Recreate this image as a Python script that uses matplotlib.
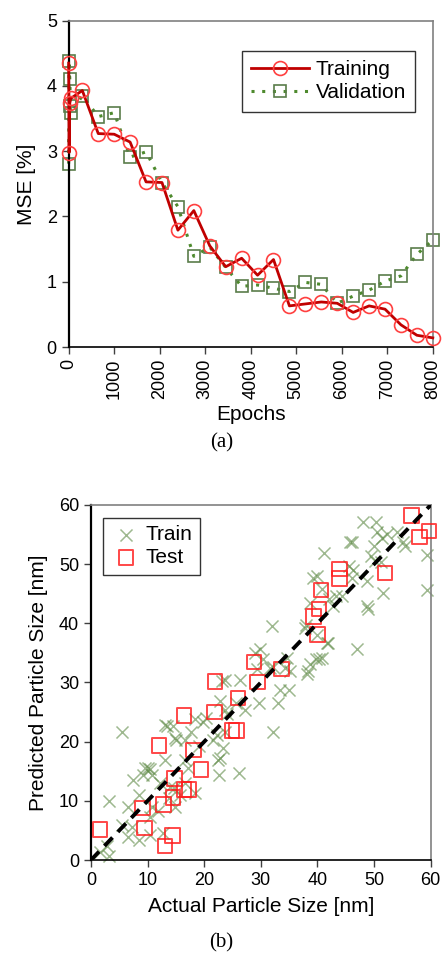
import numpy as np
import matplotlib.pyplot as plt

plt.rcParams['font.family'] = ['Liberation Sans', 'DejaVu Sans']

# (a) MSE vs epochs
train_epochs = [0, 10, 25, 50, 300, 650, 1000, 1350, 1700, 2050, 2400, 2750, 3100, 3450,
                3800, 4150, 4500, 4850, 5200, 5550, 5900, 6250, 6600, 6950, 7300, 7650, 8000]
train_mse = [4.35, 2.98, 3.74, 3.81, 3.93, 3.27, 3.26, 3.14, 2.53, 2.52, 1.79, 2.09, 1.55, 1.23,
             1.36, 1.10, 1.34, 0.63, 0.66, 0.69, 0.67, 0.53, 0.63, 0.58, 0.34, 0.18, 0.14]
val_epochs = [0, 10, 25, 40, 50, 300, 650, 1000, 1350, 1700, 2050, 2400, 2750, 3100, 3450,
              3800, 4150, 4500, 4850, 5200, 5550, 5900, 6250, 6600, 6950, 7300, 7650, 8000]
val_mse = [2.81, 4.38, 4.10, 3.69, 3.58, 3.85, 3.53, 3.59, 2.91, 2.99, 2.52, 2.15, 1.39, 1.53, 1.22,
           0.93, 0.95, 0.90, 0.85, 0.99, 0.96, 0.67, 0.78, 0.87, 1.01, 1.09, 1.42, 1.64]

# (b) predicted vs actual particle size
train_actual = [48.1, 50.4, 45.8, 50.5, 51.4, 52.2, 54.0, 55.1, 55.5, 50.0, 49.4, 50.2, 51.2,
                41.2, 59.3, 59.3, 39.3, 39.9, 45.5, 46.3, 46.1, 48.7, 51.6, 44.3, 42.1, 48.7,
                49.0, 38.7, 38.0, 41.8, 40.0, 46.9, 31.9, 37.8, 39.8, 38.7, 40.8, 34.6, 34.3,
                31.6, 35.2, 29.9, 29.3, 46.1, 29.0, 30.4, 26.3, 23.7, 38.1, 40.2, 41.6, 40.8,
                43.3, 42.8, 23.1, 25.7, 22.8, 23.6, 18.4, 19.8, 13.4, 14.4, 5.4, 14.8, 16.6,
                17.7, 22.2, 21.6, 23.7, 23.4, 19.0, 13.1, 9.5, 10.4, 9.2, 10.7, 7.5, 22.5,
                22.6, 26.2, 16.6, 14.7, 12.2, 8.4, 3.1, 6.6, 10.7, 11.9, 14.8, 10.4, 5.4, 7.2,
                6.6, 8.4, 10.4, 2.8, 3.1, 1.6, 12.8, 16.6, 17.2, 13.7, 15.7, 14.0, 18.4, 38.3,
                34.9, 33.1, 32.1, 22.7, 29.6, 32.2, 33.4, 27.2, 24.0, 20.4, 15.1, 13.1, 10.1]
train_pred = [57.1, 57.2, 53.7, 55.4, 54.4, 55.1, 55.4, 53.8, 53.1, 53.1, 51.4, 50.6, 50.3,
              51.9, 51.5, 45.6, 47.7, 48.0, 49.7, 49.0, 47.7, 47.2, 45.1, 44.6, 44.1, 42.9,
              42.4, 43.4, 39.8, 36.6, 38.1, 35.6, 39.5, 39.2, 33.9, 33.1, 34.2, 34.2, 32.5,
              32.5, 31.9, 35.6, 32.2, 53.7, 35.0, 33.9, 30.5, 30.5, 31.4, 33.9, 36.7, 45.8,
              44.6, 42.9, 30.2, 26.5, 26.8, 25.4, 23.8, 23.4, 22.7, 22.7, 21.7, 20.6, 20.3,
              21.7, 21.2, 20.3, 21.7, 18.9, 19.2, 16.9, 15.5, 15.3, 14.4, 14.4, 13.6, 16.9,
              14.4, 14.7, 13.0, 12.2, 13.0, 11.0, 9.9, 9.0, 9.0, 8.2, 9.0, 7.3, 5.9, 5.6,
              3.9, 3.4, 4.2, 2.3, 0.6, 1.4, 4.5, 16.9, 15.5, 10.5, 11.0, 12.4, 11.3, 31.9,
              28.8, 26.5, 21.7, 17.2, 26.5, 32.7, 28.8, 25.4, 24.6, 24.0, 20.3, 22.9, 15.5]
test_actual = [56.6, 58.0, 59.7, 43.9, 43.9, 51.9, 40.6, 40.3, 39.3, 40.0, 28.8, 33.6,
               21.9, 29.4, 26.0, 16.4, 21.8, 24.9, 25.7, 12.0, 18.1, 19.4, 14.7, 16.4,
               17.3, 14.5, 12.8, 9.1, 1.6, 9.5, 14.4, 13.1]
test_pred = [58.2, 54.6, 55.6, 49.2, 47.6, 48.5, 45.6, 42.4, 41.2, 38.1, 33.5, 32.3,
             30.2, 30.1, 27.4, 24.4, 25.0, 21.9, 21.9, 19.4, 18.6, 15.3, 13.8, 11.9,
             11.9, 10.6, 9.4, 8.8, 5.2, 5.4, 4.1, 2.4]

fig = plt.figure(figsize=(4.43, 9.65), dpi=100)

def style_axes(ax):
    for side in ['top', 'right']:
        ax.spines[side].set_color('#808080')
        ax.spines[side].set_linewidth(1.2)
    ax.spines['left'].set_color('black')
    ax.spines['left'].set_linewidth(1.6)
    ax.spines['bottom'].set_color('black')
    ax.spines['bottom'].set_linewidth(1.2)
    ax.tick_params(direction='out', length=5, width=1, labelsize=13, color='#404040')

# --- (a)
ax1 = fig.add_axes([0.155, 0.6404, 0.822, 0.3382])
ax1.plot(train_epochs, train_mse, color='#c00000', lw=2, marker='o', ms=10,
         mfc='none', mec='#ff4040', mew=1.2, label='Training', zorder=3, clip_on=False)
ax1.plot(val_epochs, val_mse, color='#4e8a2e', lw=2.2, ls=(0, (1, 2.5)), marker='s', ms=9,
         mfc='none', mec='#5a7d4a', mew=1.2, label='Validation', zorder=2, clip_on=False)
ax1.set_xlim(0, 8000)
ax1.set_ylim(0, 5)
ax1.set_xticks(np.arange(0, 8001, 1000))
ax1.set_yticks(np.arange(0, 6, 1))
ax1.tick_params(axis='x', labelrotation=90)
style_axes(ax1)
ax1.set_xlabel('Epochs', fontsize=15, labelpad=4)
ax1.set_ylabel('MSE [%]', fontsize=15, labelpad=8)
leg1 = ax1.legend(loc='upper right', bbox_to_anchor=(0.952, 0.908), fontsize=15,
                  frameon=True, fancybox=False, handlelength=2.8, handletextpad=0.3,
                  borderpad=0.45, labelspacing=0.2, borderaxespad=0)
leg1.get_frame().set_edgecolor('black')
leg1.get_frame().set_linewidth(1)
fig.text(0.5, 0.541, '(a)', ha='center', va='center', fontsize=15,
         family=['Liberation Serif', 'DejaVu Serif'])

# --- (b)
ax2 = fig.add_axes([0.2054, 0.1088, 0.7668, 0.3679])
ax2.scatter(train_actual, train_pred, marker='x', s=75, color='#5e8a45', alpha=0.6,
            linewidths=1.1, label='Train', zorder=2, clip_on=False)
ax2.scatter(test_actual, test_pred, marker='s', s=110, facecolors='none',
            edgecolors='#ff1a1a', alpha=0.8, linewidths=1.4, label='Test', zorder=3,
            clip_on=False)
ax2.plot([0, 60], [0, 60], color='black', lw=2.8, ls=(0, (3, 2)), zorder=4)
ax2.set_xlim(0, 60)
ax2.set_ylim(0, 60)
ax2.set_xticks(np.arange(0, 61, 10))
ax2.set_yticks(np.arange(0, 61, 10))
style_axes(ax2)
ax2.set_xlabel('Actual Particle Size [nm]', fontsize=15, labelpad=6)
ax2.set_ylabel('Predicted Particle Size [nm]', fontsize=15, labelpad=8)
leg2 = ax2.legend(loc='upper left', bbox_to_anchor=(0.035, 0.964), fontsize=15,
                  frameon=True, fancybox=False, handlelength=1.5, handletextpad=0.2,
                  borderpad=0.35, labelspacing=0.2, borderaxespad=0, scatterpoints=1)
leg2.get_frame().set_edgecolor('black')
leg2.get_frame().set_linewidth(1)
fig.text(0.5, 0.0125, '(b)', ha='center', va='bottom', fontsize=15,
         family=['Liberation Serif', 'DejaVu Serif'])

fig.savefig('out.png', dpi=100)
